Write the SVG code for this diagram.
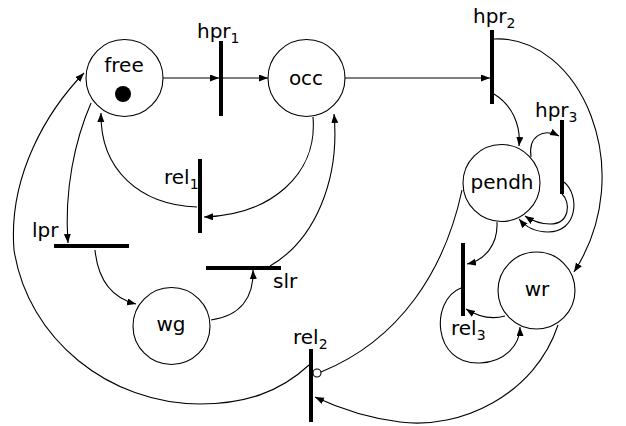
<svg xmlns="http://www.w3.org/2000/svg" width="626" height="426" viewBox="0 0 626 426">
<style>
text{font-family:"DejaVu Sans","Liberation Sans",sans-serif;font-size:20px;fill:#000}
.lbl{text-anchor:middle}
.place{fill:#fff;stroke:#000;stroke-width:1.1}
.bar{stroke:#000;stroke-width:4;fill:none}
.arc{fill:none;stroke:#000;stroke-width:1.1;marker-end:url(#ah)}
.plain{fill:none;stroke:#000;stroke-width:1.1}
.sub{font-size:14px}
</style>
<defs>
<marker id="ah" markerUnits="userSpaceOnUse" markerWidth="10" markerHeight="8" refX="9" refY="3.5" orient="auto">
<path d="M0,0 L9,3.5 L0,7 z" fill="#000"/>
</marker>
</defs>
<g id="connectors">
<path class="arc" d="M163,78 L219,78"/>
<path class="arc" d="M223,78 L268,78"/>
<path class="arc" d="M345,78 L490,78"/>
<path class="arc" d="M494,94 C512,105 521,125 519,146"/>
<path class="arc" d="M494,39 C580,35 640,170 574,272"/>
<path class="arc" d="M531,157 C528,136 543,128 559,136"/>
<path class="arc" d="M564,182 C580,195 578,232 548,232 C535,232 525,226 519,219"/>
<path class="arc" d="M562,194 C571,202 570,224 550,224 C540,224 531,220 525,216"/>
<path class="arc" d="M497,222 C498,245 485,260 467,264"/>
<path class="arc" d="M505,316 C490,320 477,316 466,309"/>
<path class="arc" d="M461,288 C430,300 432,365 480,363 C505,362 520,345 520,327"/>
<path class="arc" d="M558,325 C535,395 460,430 400,422 C360,417 332,405 315,397"/>
<path class="plain" d="M462,190 C445,270 400,340 321,372"/>
<circle cx="317" cy="373" r="4" fill="#fff" stroke="#000" stroke-width="1.1"/>
<path class="arc" d="M309,365 C280,392 245,404 200,404 C110,404 28,340 14,250 C8,175 48,110 84,73"/>
<path class="arc" d="M91,103 C75,140 64,190 68,243"/>
<path class="arc" d="M197,207 C140,205 100,170 101,113"/>
<path class="arc" d="M313,117 C318,175 270,215 204,217"/>
<path class="arc" d="M270,266 C315,240 340,180 334,114"/>
<path class="arc" d="M211,320 C240,316 254,298 253,270"/>
<path class="arc" d="M95,250 C98,280 112,298 136,304"/>
</g>
<g id="free">
<circle class="place" cx="124.5" cy="78" r="38.5"/>
<circle cx="123" cy="94" r="8" fill="#000"/>
<text class="lbl" x="124" y="72">free</text>
</g>
<g id="occ">
<circle class="place" cx="306.5" cy="78" r="38.5"/>
<text class="lbl" x="306" y="85">occ</text>
</g>
<g id="pendh">
<circle class="place" cx="501.5" cy="183" r="38.5"/>
<text class="lbl" x="502" y="189">pendh</text>
</g>
<g id="wr">
<circle class="place" cx="536.5" cy="290.5" r="38.5"/>
<text class="lbl" x="537" y="296">wr</text>
</g>
<g id="wg">
<circle class="place" cx="171.5" cy="326" r="38.5"/>
<text class="lbl" x="171" y="331">wg</text>
</g>
<g id="hpr1">
<line class="bar" x1="221" y1="41" x2="221" y2="116"/>
<text x="197" y="38">hpr<tspan class="sub" dy="5">1</tspan></text>
</g>
<g id="hpr2">
<line class="bar" x1="492" y1="30" x2="492" y2="104"/>
<text x="473" y="23">hpr<tspan class="sub" dy="5">2</tspan></text>
</g>
<g id="hpr3">
<line class="bar" x1="562" y1="120" x2="562" y2="194"/>
<text x="535" y="117">hpr<tspan class="sub" dy="5">3</tspan></text>
</g>
<g id="rel1">
<line class="bar" x1="200" y1="159" x2="200" y2="233"/>
<text x="164" y="184">rel<tspan class="sub" dy="5">1</tspan></text>
</g>
<g id="rel2">
<line class="bar" x1="311" y1="349" x2="311" y2="422"/>
<text x="293" y="344">rel<tspan class="sub" dy="5">2</tspan></text>
</g>
<g id="rel3">
<line class="bar" x1="463" y1="243" x2="463" y2="316"/>
<text x="451" y="335">rel<tspan class="sub" dy="5">3</tspan></text>
</g>
<g id="lpr">
<line class="bar" x1="54" y1="246" x2="129" y2="246"/>
<text x="32" y="237">lpr</text>
</g>
<g id="slr">
<line class="bar" x1="206" y1="268" x2="281" y2="268"/>
<text x="273" y="288">slr</text>
</g>
</svg>
